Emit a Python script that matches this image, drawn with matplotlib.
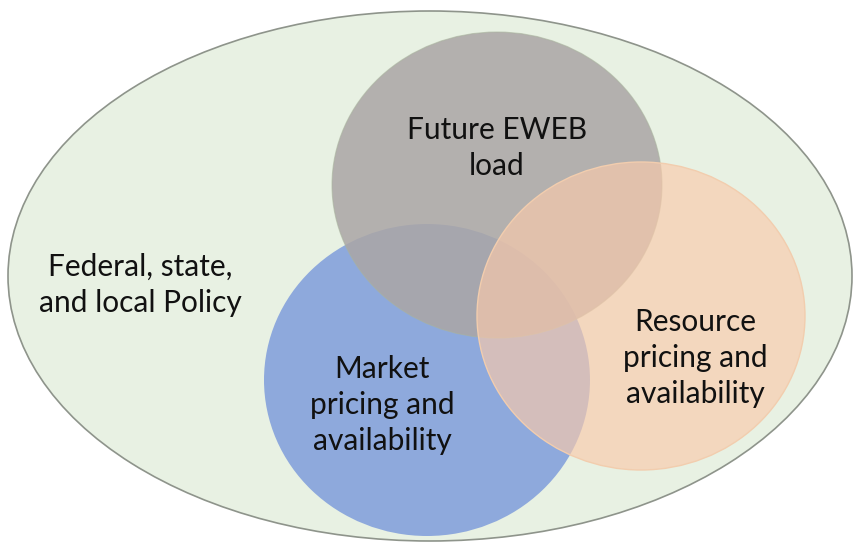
import matplotlib
matplotlib.use("Agg")
import matplotlib.pyplot as plt
from matplotlib.patches import Ellipse

# Labels of the diagram
outer_label = "Federal, state,\nand local Policy"
set_labels = ["Future EWEB\nload", "Market\npricing and\navailability", "Resource\npricing and\navailability"]

fig = plt.figure(figsize=(8.55, 5.46), dpi=100)
ax = fig.add_axes([0, 0, 1, 1])
ax.set_xlim(0, 855)
ax.set_ylim(546, 0)
ax.axis("off")

# outer context ellipse
ax.add_patch(Ellipse((430, 276), 844, 530, facecolor="#E8F1E3", edgecolor="#8E948B", lw=1.2, zorder=1))

# blue (market)
ax.add_patch(Ellipse((427, 380), 326, 312, facecolor="#8EA9DC", edgecolor="none", zorder=2))
# gray (load), translucent over blue
ax.add_patch(Ellipse((497, 185), 330, 306, facecolor=(171/255, 166/255, 166/255), alpha=0.86,
                     edgecolor="none", zorder=3))
ax.add_patch(Ellipse((497, 185), 330, 306, facecolor="none", edgecolor="#A9B39E", lw=0.8, alpha=0.6, zorder=3))
# peach (resource)
ax.add_patch(Ellipse((641, 316), 328, 308, facecolor=(250/255, 202/255, 171/255), alpha=0.66,
                     edgecolor="none", zorder=4))
ax.add_patch(Ellipse((641, 316), 328, 308, facecolor="none", edgecolor="#F2CDAE", lw=1.0, zorder=4))

fam = ["Lato", "DejaVu Sans"]
fs = 21.5
tc = "#111111"
ls = 1.36
ax.text(497, 148, set_labels[0], ha="center", va="center", fontsize=fs, family=fam, color=tc,
        linespacing=ls, zorder=10)
ax.text(382, 405, set_labels[1], ha="center", va="center", fontsize=fs, family=fam, color=tc,
        linespacing=ls, zorder=10)
ax.text(695, 358, set_labels[2], ha="center", va="center", fontsize=fs, family=fam, color=tc,
        linespacing=ls, zorder=10)
ax.text(140, 285, outer_label, ha="center", va="center", fontsize=fs, family=fam, color=tc,
        linespacing=ls, zorder=10)

fig.savefig("out.png", dpi=100, facecolor="white")
